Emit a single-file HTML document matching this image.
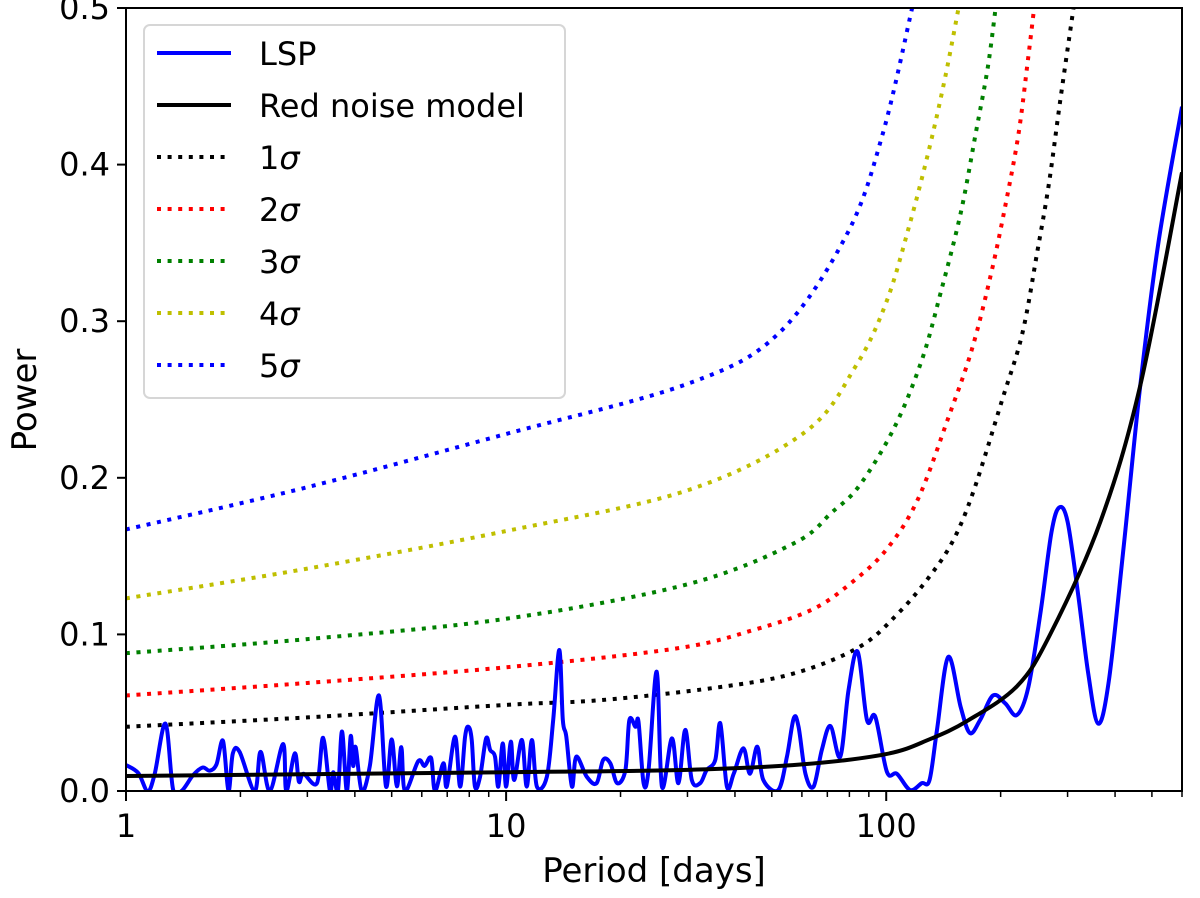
<!DOCTYPE html>
<html><head><meta charset="utf-8">
<style>
html,body{margin:0;padding:0;background:#fff;}
svg{display:block;font-family:"DejaVu Sans","Liberation Sans",sans-serif;}
</style></head>
<body>
<svg id="chart" width="1200" height="898" viewBox="0 0 1200 898" xmlns="http://www.w3.org/2000/svg">
<defs><clipPath id="plotclip"><rect x="126" y="8" width="1056" height="783"/></clipPath></defs>
<rect x="0" y="0" width="1200" height="898" fill="#fff"/>
<g id="series" clip-path="url(#plotclip)"></g>
<g id="axes"></g>
<g id="legend"></g>
</svg>
<script>
const xTicks = [1, 10, 100];
const xTickLabels = ["1", "10", "100"];
const yTicks = [0, 0.1, 0.2, 0.3, 0.4, 0.5];
const yTickLabels = ["0.0", "0.1", "0.2", "0.3", "0.4", "0.5"];

const modelP = [1, 10, 30, 60, 100, 130, 164, 221, 270, 366, 466, 600];
const modelV = [0.0096, 0.012, 0.0135, 0.017, 0.0236, 0.033, 0.045, 0.067, 0.100, 0.172, 0.259, 0.395];

const sig1P = [1, 3, 10, 17.7, 35.6, 57, 85, 108, 130, 150, 170, 202, 228, 250, 268, 287, 311];
const sig1V = [0.041, 0.047, 0.055, 0.058, 0.066, 0.075, 0.092, 0.114, 0.137, 0.160, 0.192, 0.25, 0.292, 0.345, 0.388, 0.441, 0.5];
const sig2P = [1, 3, 10, 28, 45, 64, 81, 100, 121, 146, 168, 189, 207, 223, 236, 245];
const sig2V = [0.061, 0.069, 0.079, 0.091, 0.103, 0.116, 0.133, 0.154, 0.186, 0.239, 0.282, 0.331, 0.377, 0.42, 0.467, 0.5];
const sig3P = [1, 3, 10, 30, 57, 72, 85, 105, 124, 139, 157, 172, 185, 194];
const sig3V = [0.088, 0.097, 0.110, 0.132, 0.158, 0.178, 0.195, 0.232, 0.275, 0.318, 0.369, 0.42, 0.462, 0.5];
const sig4P = [1, 3, 10, 30, 61, 83, 100, 115, 130, 143, 155];
const sig4V = [0.123, 0.142, 0.166, 0.192, 0.229, 0.271, 0.312, 0.361, 0.411, 0.456, 0.5];
const sig5P = [1, 3, 10, 30, 52, 79, 98, 117];
const sig5V = [0.167, 0.194, 0.228, 0.260, 0.292, 0.356, 0.42, 0.5];

const lspP = [1, 1.077, 1.14, 1.19, 1.27, 1.33, 1.40, 1.50, 1.59, 1.66, 1.73, 1.80, 1.86, 1.91, 1.99, 2.18, 2.26, 2.39, 2.59, 2.64, 2.78, 2.85, 2.93, 3.18, 3.30, 3.44, 3.51, 3.61, 3.70, 3.81, 3.90, 3.96, 4.02, 4.17, 4.38, 4.63, 4.83, 5.0, 5.16, 5.3, 5.42, 5.87, 6.1, 6.35, 6.5,
  6.84, 6.98, 7.34, 7.57, 7.80, 7.96, 8.12, 8.28, 8.54, 8.86, 9.08, 9.35, 9.54, 9.80, 10.0, 10.29, 10.5, 11.0, 11.33, 11.69, 12.05, 12.8, 13.3, 13.8, 14.1, 14.4, 14.9, 15.3, 16.3, 17.3, 18.0, 18.8, 19.6, 20.6, 21.1, 21.9, 22.3, 23.0, 23.7, 24.9, 25.7, 27.3, 28.4, 29.6, 30.8, 32.4, 33.7, 35.5, 36.6,
  38.1, 39.7, 42.1, 43.8, 45.8, 47.5, 52.0, 54.8, 57.1, 58.8, 61.3, 64.4, 67.7, 71.3, 75.7, 79.6, 84.1, 89.0, 93.6, 100.4, 106.7, 115.6, 124, 130, 136, 145.6, 157, 166, 176.6, 191, 205.6, 220.7, 236.6, 255, 272, 285, 300, 320, 340, 361, 385, 421, 466, 520, 600];
const lspV = [0.0166, 0.0115, 0.0, 0.011, 0.043, 0.001, 0.0, 0.01, 0.015, 0.013, 0.017, 0.032, 0.0, 0.024, 0.025, 0.0, 0.025, 0.0, 0.030, 0.0, 0.024, 0.006, 0.011, 0.005, 0.034, 0.0, 0.012, 0.0, 0.038, 0.0, 0.035, 0.016, 0.028, 0.0, 0.016, 0.061, 0.003, 0.033, 0.003, 0.028, 0.0, 0.019, 0.016, 0.021, 0.0,
  0.0177, 0.0028, 0.0347, 0.0028, 0.0347, 0.041, 0.0326, 0.0028, 0.0091, 0.0336, 0.0262, 0.0219, 0.0028, 0.0304, 0.0028, 0.0315, 0.007, 0.0326, 0.0028, 0.0326, 0.0028, 0.0091, 0.0453, 0.090, 0.0453, 0.0347, 0.0028, 0.0219, 0.0091, 0.005, 0.0198, 0.0177, 0.005, 0.0134, 0.0453, 0.041, 0.0443, 0.005, 0.0134, 0.0762, 0.0028, 0.0336, 0.005, 0.039, 0.007, 0.005, 0.0134, 0.0198, 0.0432,
  0.0028, 0.011, 0.0273, 0.011, 0.0283, 0.007, 0.0006, 0.0219, 0.0464, 0.041, 0.011, 0.0028, 0.0262, 0.0415, 0.0219, 0.0645, 0.089, 0.0453, 0.0474, 0.0123, 0.011, 0.0006, 0.005, 0.007, 0.039, 0.0856, 0.0536, 0.037, 0.0453, 0.061, 0.056, 0.0485, 0.0664, 0.115, 0.165, 0.181, 0.172, 0.125, 0.075, 0.043, 0.07, 0.155, 0.259, 0.35, 0.437];

const NS = "http://www.w3.org/2000/svg";
const L = 126, R = 1182, T = 8, B = 791;
const xMin = 1, xMax = 600, yMin = 0, yMax = 0.5;
function xs(p){ return L + (Math.log10(p) - Math.log10(xMin)) / (Math.log10(xMax) - Math.log10(xMin)) * (R - L); }
function ys(v){ return B - (v - yMin) / (yMax - yMin) * (B - T); }
function mk(tag, attrs, parent){
  const e = document.createElementNS(NS, tag);
  for (const k in attrs) e.setAttribute(k, attrs[k]);
  parent.appendChild(e); return e;
}
function pathD(P, V, smooth){
  const pts = P.map((p,i)=>[xs(p), ys(V[i])]);
  let d = "M" + pts[0][0].toFixed(2) + "," + pts[0][1].toFixed(2);
  for (let i=0;i<pts.length-1;i++){
    if (!smooth){ d += "L" + pts[i+1][0].toFixed(2) + "," + pts[i+1][1].toFixed(2); continue; }
    const p0 = pts[Math.max(0,i-1)], p1 = pts[i], p2 = pts[i+1], p3 = pts[Math.min(pts.length-1,i+2)];
    const c1x = p1[0] + (p2[0]-p0[0])/6, c1y = p1[1] + (p2[1]-p0[1])/6;
    const c2x = p2[0] - (p3[0]-p1[0])/6, c2y = p2[1] - (p3[1]-p1[1])/6;
    d += "C"+c1x.toFixed(2)+","+c1y.toFixed(2)+" "+c2x.toFixed(2)+","+c2y.toFixed(2)+" "+p2[0].toFixed(2)+","+p2[1].toFixed(2);
  }
  return d;
}
const series = document.getElementById("series");
const axes = document.getElementById("axes");
const legend = document.getElementById("legend");

const sigmas = [
  {P: sig5P, V: sig5V, c: "#0000ff", n: "sigma5-line"},
  {P: sig4P, V: sig4V, c: "#bfbf00", n: "sigma4-line"},
  {P: sig3P, V: sig3V, c: "#008000", n: "sigma3-line"},
  {P: sig2P, V: sig2V, c: "#ff0000", n: "sigma2-line"},
  {P: sig1P, V: sig1V, c: "#000000", n: "sigma1-line"}
];
sigmas.forEach(s=>{
  const e = mk("path", {d: pathD(s.P, s.V, true), fill:"none", stroke:s.c, "stroke-width":4, "stroke-dasharray":"4 6.6"}, series);
  
  
});
const lsp = mk("path", {d: pathD(lspP, lspV, true), fill:"none", stroke:"#0000ff", "stroke-width":4, "stroke-linejoin":"round"}, series);


const model = mk("path", {d: pathD(modelP, modelV, true), fill:"none", stroke:"#000", "stroke-width":4}, series);



const frame = mk("rect", {x:L, y:T, width:R-L, height:B-T, fill:"none", stroke:"#000", "stroke-width":2}, axes);



yTicks.forEach((v,i)=>{
  const y = ys(v);
  const t = mk("line", {x1:L-9, x2:L, y1:y, y2:y, stroke:"#000", "stroke-width":2}, axes);
  
  
  const lb = mk("text", {x:L-16, y:y+11, "text-anchor":"end", "font-size":32, fill:"#000"}, axes);
  lb.textContent = yTickLabels[i];
  
  
});
xTicks.forEach((p,i)=>{
  const x = xs(p);
  const t = mk("line", {x1:x, x2:x, y1:B, y2:B+10, stroke:"#000", "stroke-width":2}, axes);
  
  
  const lb = mk("text", {x:x, y:B+46, "text-anchor":"middle", "font-size":32, fill:"#000"}, axes);
  lb.textContent = xTickLabels[i];
  
  
});
for (let dec=1; dec<=100; dec*=10){
  for (let m=2; m<=9; m++){
    const p = dec*m; if (p > xMax) break;
    const x = xs(p);
    const t = mk("line", {x1:x, x2:x, y1:B, y2:B+6, stroke:"#000", "stroke-width":1.5}, axes);
    
    
  }
}
const xl = mk("text", {x:(L+R)/2, y:882, "text-anchor":"middle", "font-size":34, fill:"#000"}, axes);
xl.textContent = "Period [days]";


const yl = mk("text", {x:0, y:0, "text-anchor":"middle", "font-size":34, fill:"#000", transform:"translate(36,400) rotate(-90)"}, axes);
yl.textContent = "Power";



const lbox = mk("rect", {x:144, y:25, width:421, height:373, rx:6, fill:"#fff", "fill-opacity":0.85, stroke:"#d6d6d6", "stroke-width":2}, legend);


const entries = [
  {t:"LSP", c:"#0000ff", dash:null},
  {t:"Red noise model", c:"#000", dash:null},
  {t:"1", c:"#000", dash:"4 6.6"},
  {t:"2", c:"#ff0000", dash:"4 6.6"},
  {t:"3", c:"#008000", dash:"4 6.6"},
  {t:"4", c:"#bfbf00", dash:"4 6.6"},
  {t:"5", c:"#0000ff", dash:"4 6.6"}
];
entries.forEach((en,i)=>{
  const y = 53 + i*52;
  const g = mk("g", {}, legend);
  
  
  const a = {x1:157, x2:231, y1:y, y2:y, stroke:en.c, "stroke-width":4};
  if (en.dash) a["stroke-dasharray"] = en.dash;
  mk("line", a, g);
  const tx = mk("text", {x:259, y:y+12, "font-size":32, fill:"#000"}, g);
  tx.textContent = en.t;
  if (en.dash){
    const ts = mk("tspan", {"font-style":"italic"}, tx);
    ts.textContent = "σ";
  }
});
</script>
</body></html>
